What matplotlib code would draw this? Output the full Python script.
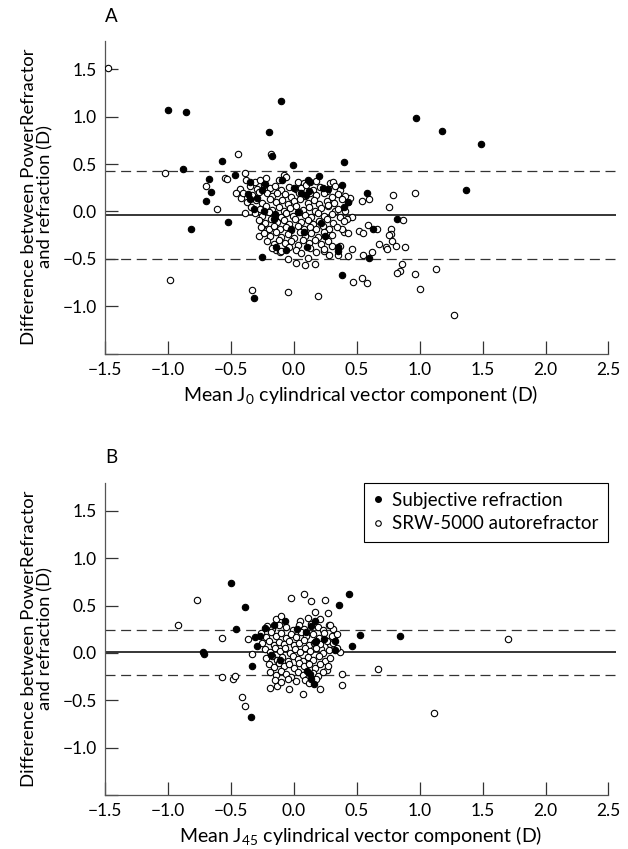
import matplotlib
matplotlib.use("Agg")
import matplotlib.pyplot as plt
from matplotlib.lines import Line2D

plt.rcParams['font.family'] = ['Lato', 'DejaVu Sans']

# ---- panel A: J0 ----
a_fill = [(-1.00, 1.07), (-0.86, 1.05), (-0.10, 1.17), (-0.20, 0.84), (-0.175, 0.59), (-0.01, 0.495),
          (0.40, 0.52), (0.97, 0.99), (1.18, 0.85), (1.49, 0.71), (1.37, 0.23), (-0.88, 0.45),
          (-0.57, 0.53), (-0.47, 0.39), (-0.67, 0.34), (-0.66, 0.21), (-0.70, 0.11), (-0.82, -0.19),
          (-0.52, -0.11), (-0.25, -0.48), (-0.32, -0.91), (0.38, -0.675), (0.60, -0.49), (0.63, -0.18),
          (0.82, -0.08), (0.58, 0.20), (0.40, 0.05), (0.43, 0.10), (0.20, 0.37), (0.38, 0.28),
          (0.35, -0.38), (0.35, -0.42), (-0.14, -0.38), (-0.06, -0.41), (0.105, -0.38), (-0.35, 0.31),
          (-0.36, 0.18), (-0.345, 0.13), (-0.29, 0.14), (-0.25, 0.23), (-0.23, 0.29), (-0.32, 0.025),
          (-0.24, 0.01), (-0.15, -0.03), (-0.16, -0.08), (-0.09, 0.33), (0.11, 0.33), (0.13, 0.31),
          (0.12, 0.22), (0.06, 0.20), (0.095, 0.17), (0.23, 0.25), (0.27, 0.24), (0.0, 0.25),
          (0.08, -0.22), (-0.02, -0.19), (0.22, -0.12), (0.25, -0.26), (0.03, -0.01)]

a_open = [
    # scattered points
    (-1.48, 1.52), (-1.02, 0.41), (-0.98, -0.72), (-0.70, 0.265), (-0.61, 0.03), (-0.55, 0.35),
    (-0.53, 0.34), (-0.44, 0.61), (-0.39, 0.41), (-0.43, 0.24), (-0.46, 0.19), (-0.42, 0.14),
    (-0.39, -0.02), (-0.18, 0.61), (-0.33, -0.83), (-0.05, -0.85), (0.19, -0.89), (0.96, 0.19),
    (0.79, 0.17), (0.76, 0.05), (0.54, 0.11), (0.60, 0.13), (0.87, -0.09), (0.59, -0.14),
    (0.52, -0.21), (0.55, -0.23), (0.77, -0.19), (0.77, -0.24), (0.76, -0.25), (0.78, -0.31),
    (0.81, -0.37), (0.88, -0.38), (0.68, -0.34), (0.73, -0.38), (0.74, -0.40), (0.66, -0.18),
    (0.55, -0.46), (0.62, -0.43), (0.46, -0.40), (0.86, -0.55), (0.84, -0.63), (0.82, -0.65),
    (0.96, -0.66), (1.13, -0.61), (1.00, -0.82), (1.27, -1.09), (0.54, -0.70), (0.58, -0.76),
    (0.47, -0.75), (0.40, -0.22), (0.43, -0.23), (0.38, -0.19), (0.46, -0.06), (0.42, -0.08),
    (0.43, 0.095), (0.45, 0.14), (0.30, 0.30), (0.33, 0.01), (0.41, 0.0), (0.27, 0.06),
    (0.43, -0.47), (0.35, -0.46), (0.37, -0.36), (0.30, -0.37), (0.24, -0.42), (0.28, -0.46),
    (0.17, -0.55), (0.09, -0.565), (0.02, -0.54), (-0.05, -0.50), (-0.14, -0.41), (-0.11, -0.43),
    (-0.28, -0.26), (-0.25, -0.15), (0.11, -0.49),
    # central cluster
    (-0.38, 0.33), (-0.31, 0.31), (-0.27, 0.33), (-0.22, 0.35), (-0.12, 0.33), (-0.08, 0.38),
    (-0.06, 0.36), (0.03, 0.31), (0.08, 0.30), (0.18, 0.32), (0.29, 0.30), (0.31, 0.31),
    (-0.35, 0.27), (-0.29, 0.24), (-0.24, 0.28), (-0.19, 0.25), (-0.15, 0.27), (-0.10, 0.23),
    (-0.04, 0.26), (0.02, 0.24), (0.06, 0.25), (0.10, 0.28), (0.15, 0.23), (0.21, 0.26),
    (0.26, 0.22), (0.33, 0.27), (0.37, 0.23),
    (-0.40, 0.20), (-0.33, 0.17), (-0.28, 0.21), (-0.21, 0.19), (-0.17, 0.16), (-0.13, 0.20),
    (-0.07, 0.18), (-0.02, 0.15), (0.04, 0.19), (0.09, 0.16), (0.13, 0.20), (0.18, 0.17),
    (0.24, 0.19), (0.30, 0.15), (0.35, 0.18), (0.41, 0.16),
    (-0.37, 0.10), (-0.30, 0.12), (-0.25, 0.09), (-0.19, 0.13), (-0.14, 0.10), (-0.09, 0.12),
    (-0.05, 0.08), (0.00, 0.11), (0.05, 0.13), (0.11, 0.09), (0.16, 0.12), (0.20, 0.08),
    (0.26, 0.11), (0.32, 0.09), (0.38, 0.13),
    (-0.34, 0.05), (-0.27, 0.03), (-0.22, 0.06), (-0.17, 0.02), (-0.12, 0.05), (-0.08, 0.01),
    (-0.03, 0.04), (0.02, 0.06), (0.07, 0.02), (0.12, 0.05), (0.17, 0.01), (0.22, 0.04),
    (0.27, 0.07), (0.35, 0.03),
    (-0.31, -0.02), (-0.25, -0.05), (-0.20, -0.01), (-0.15, -0.04), (-0.10, -0.06), (-0.06, -0.02),
    (-0.01, -0.05), (0.04, -0.01), (0.09, -0.04), (0.14, -0.06), (0.19, -0.02), (0.24, -0.05),
    (0.30, -0.03), (0.37, -0.06),
    (-0.28, -0.09), (-0.23, -0.12), (-0.18, -0.08), (-0.13, -0.11), (-0.08, -0.09), (-0.04, -0.13),
    (0.01, -0.08), (0.06, -0.11), (0.11, -0.09), (0.15, -0.13), (0.20, -0.10), (0.26, -0.08),
    (0.31, -0.12), (0.40, -0.10),
    (-0.26, -0.16), (-0.20, -0.18), (-0.16, -0.15), (-0.11, -0.19), (-0.06, -0.16), (-0.02, -0.20),
    (0.03, -0.15), (0.08, -0.18), (0.13, -0.16), (0.18, -0.19), (0.23, -0.15), (0.28, -0.18),
    (0.34, -0.16),
    (-0.24, -0.23), (-0.19, -0.26), (-0.14, -0.22), (-0.10, -0.27), (-0.05, -0.24), (0.00, -0.28),
    (0.05, -0.22), (0.09, -0.26), (0.14, -0.23), (0.19, -0.27), (0.24, -0.22), (0.30, -0.25),
    (-0.21, -0.31), (-0.16, -0.34), (-0.12, -0.30), (-0.07, -0.33), (-0.02, -0.31), (0.03, -0.35),
    (0.07, -0.30), (0.12, -0.33), (0.17, -0.30), (0.22, -0.34), (0.27, -0.31),
    (-0.17, -0.39), (-0.10, -0.42), (-0.04, -0.38), (0.02, -0.41), (0.06, -0.44), (0.13, -0.39),
    (0.18, -0.43), (0.24, -0.40)]

a_lines = [-0.035, 0.425, -0.50]  # mean, upper and lower limits of agreement

# ---- panel B: J45 ----
b_fill = [(-0.50, 0.74), (-0.385, 0.49), (-0.46, 0.25), (-0.72, 0.01), (-0.71, -0.01), (-0.33, -0.14),
          (-0.34, -0.68), (-0.31, 0.17), (-0.27, 0.18), (-0.29, 0.07), (-0.23, 0.26), (-0.16, 0.30),
          (-0.07, 0.34), (0.025, 0.25), (0.10, 0.22), (0.135, 0.28), (0.165, 0.34), (0.175, 0.13),
          (0.17, 0.12), (0.24, 0.145), (0.33, 0.13), (0.36, 0.51), (0.44, 0.62), (0.525, 0.19),
          (0.46, 0.075), (0.84, 0.18), (0.33, 0.03), (0.16, -0.33), (0.105, -0.19), (0.13, -0.22),
          (-0.18, -0.02), (-0.11, -0.07), (0.14, -0.27)]

b_open = [
    (-0.92, 0.29), (-0.77, 0.56), (-0.57, 0.16), (-0.57, -0.25), (-0.48, -0.28), (-0.47, -0.24),
    (-0.41, -0.46), (-0.385, -0.56), (-0.33, -0.01), (-0.36, 0.145), (-0.02, 0.58), (0.08, 0.62),
    (0.14, 0.55), (0.245, 0.56), (0.27, 0.42), (0.17, 0.43), (0.28, 0.29), (0.31, 0.25),
    (0.32, 0.17), (0.29, 0.09), (0.37, 0.01), (0.22, 0.04), (0.38, -0.22), (0.38, -0.34),
    (0.26, -0.18), (0.21, -0.38), (0.07, -0.43), (-0.04, -0.38), (-0.13, -0.35), (-0.19, -0.37),
    (0.67, -0.17), (1.11, -0.63), (1.70, 0.15), (-0.14, 0.36), (-0.10, 0.39),
    # central cluster
    (0.05, 0.34), (0.11, 0.37), (0.21, 0.36),
    (-0.21, 0.28), (-0.17, 0.25), (-0.12, 0.30), (-0.06, 0.27), (-0.01, 0.24), (0.04, 0.29),
    (0.08, 0.25), (0.14, 0.31), (0.19, 0.27), (0.23, 0.24), (0.29, 0.30),
    (-0.26, 0.21), (-0.22, 0.17), (-0.18, 0.22), (-0.14, 0.18), (-0.10, 0.21), (-0.06, 0.16),
    (-0.02, 0.20), (0.02, 0.17), (0.06, 0.22), (0.10, 0.18), (0.15, 0.20), (0.20, 0.16),
    (0.24, 0.21), (0.30, 0.18), (0.34, 0.20),
    (-0.25, 0.10), (-0.20, 0.13), (-0.16, 0.08), (-0.12, 0.12), (-0.08, 0.09), (-0.04, 0.13),
    (0.00, 0.08), (0.04, 0.11), (0.08, 0.14), (0.12, 0.08), (0.16, 0.11), (0.21, 0.09),
    (0.26, 0.13), (0.31, 0.10),
    (-0.23, 0.04), (-0.19, 0.01), (-0.15, 0.05), (-0.11, 0.02), (-0.07, 0.05), (-0.03, 0.00),
    (0.01, 0.04), (0.05, 0.01), (0.09, 0.05), (0.13, 0.02), (0.18, 0.05), (0.23, 0.00),
    (0.28, 0.03), (0.34, 0.05),
    (-0.22, -0.05), (-0.17, -0.03), (-0.13, -0.07), (-0.09, -0.04), (-0.05, -0.08), (-0.01, -0.03),
    (0.03, -0.06), (0.07, -0.09), (0.11, -0.04), (0.15, -0.07), (0.20, -0.03), (0.25, -0.08),
    (0.29, -0.05),
    (-0.20, -0.12), (-0.16, -0.15), (-0.12, -0.11), (-0.08, -0.14), (-0.04, -0.12), (0.00, -0.16),
    (0.04, -0.11), (0.08, -0.14), (0.12, -0.12), (0.17, -0.16), (0.21, -0.12), (0.27, -0.14),
    (-0.19, -0.20), (-0.14, -0.23), (-0.10, -0.19), (-0.06, -0.22), (-0.02, -0.25), (0.03, -0.20),
    (0.07, -0.23), (0.11, -0.26), (0.15, -0.21), (0.19, -0.24), (0.23, -0.20),
    (-0.15, -0.29), (-0.10, -0.31), (-0.05, -0.28), (0.02, -0.30), (0.09, -0.29), (0.12, -0.32),
    (0.18, -0.28)]

b_lines = [0.005, 0.245, -0.23]

xticks = [-1.5, -1.0, -0.5, 0.0, 0.5, 1.0, 1.5, 2.0, 2.5]
yticks = [-1.5, -1.0, -0.5, 0.0, 0.5, 1.0, 1.5]
ylabel = "Difference between PowerRefractor\nand refraction (D)"

W, H = 628, 849


def rect(left, top, right, bottom):
    return [left / W, 1 - bottom / H, (right - left) / W, (bottom - top) / H]


def fmt(v):
    return f"{v:.1f}".replace("-", "\u2212")


def draw_panel(ax, opn, fil, lines, xlabel):
    ox, oy = zip(*opn)
    fx, fy = zip(*fil)
    ax.plot(ox, oy, 'o', ls='none', mfc='white', mec='black', mew=0.8, ms=4.6, zorder=3)
    ax.plot(fx, fy, 'o', ls='none', mfc='black', mec='black', mew=0.8, ms=4.6, zorder=4)
    ax.axhline(lines[0], color='black', lw=1.1, zorder=2)
    for v in lines[1:]:
        ax.axhline(v, color='#333333', lw=0.9, ls=(0, (8, 4.5)), zorder=2)
    ax.set_xlim(-1.5, 2.56)
    ax.set_ylim(-1.5, 1.8)
    for s in ['top', 'right']:
        ax.spines[s].set_visible(False)
    ax.spines['bottom'].set_bounds(-1.5, 2.5)
    for s in ['left', 'bottom']:
        ax.spines[s].set_color('#555555')
        ax.spines[s].set_linewidth(0.9)
    ax.set_xticks(xticks)
    ax.set_xticklabels([fmt(v) for v in xticks])
    ax.set_yticks(yticks)
    ax.set_yticklabels([''] + [fmt(v) for v in yticks[1:]])
    ax.tick_params(direction='in', length=9.5, width=0.9, color='#333333',
                   labelsize=12.5, pad=6)
    ax.set_xlabel(xlabel, fontsize=14, labelpad=4)


fig = plt.figure(figsize=(6.28, 8.49), dpi=100)
axA = fig.add_axes(rect(105, 41, 616, 353.5))
axB = fig.add_axes(rect(105, 482.5, 616, 795))

draw_panel(axA, a_open, a_fill, a_lines, r"Mean J$_\mathregular{0}$ cylindrical vector component (D)")
draw_panel(axB, b_open, b_fill, b_lines, r"Mean J$_\mathregular{45}$ cylindrical vector component (D)")

fig.text(37 / W, 1 - 197 / H, ylabel, rotation=90, ha='center', va='center',
         multialignment='center', fontsize=13.3, linespacing=1.05)
fig.text(37 / W, 1 - 638.75 / H, ylabel, rotation=90, ha='center', va='center',
         multialignment='center', fontsize=13.3, linespacing=1.05)
fig.text(111 / W, 1 - 17 / H, "A", ha='center', va='center', fontsize=13.5)
fig.text(111 / W, 1 - 457 / H, "B", ha='center', va='center', fontsize=13.5)

handles = [Line2D([], [], marker='o', ls='none', mfc='black', mec='black', ms=4),
           Line2D([], [], marker='o', ls='none', mfc='white', mec='black', mew=0.8, ms=4)]
leg = axB.legend(handles, ["Subjective refraction", "SRW-5000 autorefractor"],
                 loc='upper right', bbox_to_anchor=((608 - 105) / 511, 1.0), borderaxespad=0,
                 fontsize=13.5, frameon=True, fancybox=False, framealpha=1, edgecolor='black',
                 handlelength=0.5, handletextpad=0.5, labelspacing=0.35, borderpad=0.5)
leg.get_frame().set_linewidth(0.8)

fig.savefig("out.png", dpi=100)
